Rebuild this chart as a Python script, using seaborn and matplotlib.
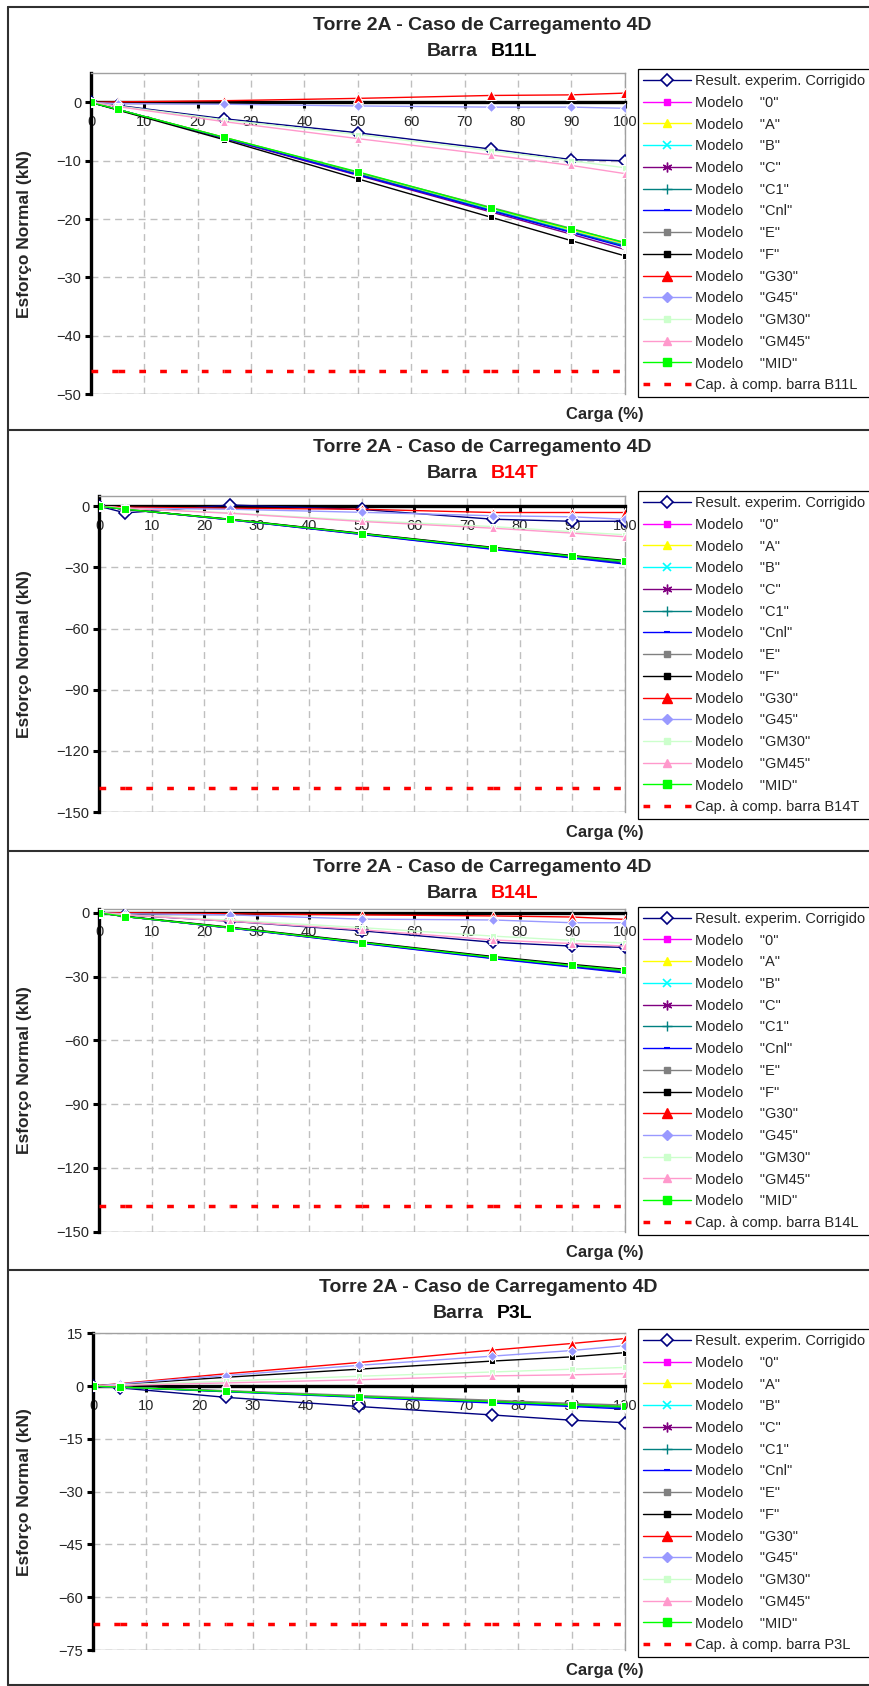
import matplotlib
matplotlib.use('Agg')
import matplotlib.pyplot as plt
import seaborn as sns
from matplotlib.lines import Line2D

sns.set_style('white')
plt.rcParams['font.family'] = ['Liberation Sans', 'DejaVu Sans']

# load steps (% of load)
carga = [0, 5, 25, 50, 75, 90, 100]

series_keys = ['exp', '0', 'A', 'B', 'C', 'C1', 'Cnl', 'E', 'F',
               'G30', 'G45', 'GM30', 'GM45', 'MID']
series_labels = ['Result. experim. Corrigido', 'Modelo    "0"', 'Modelo    "A"',
                 'Modelo    "B"', 'Modelo    "C"', 'Modelo    "C1"',
                 'Modelo    "Cnl"', 'Modelo    "E"', 'Modelo    "F"',
                 'Modelo    "G30"', 'Modelo    "G45"', 'Modelo    "GM30"',
                 'Modelo    "GM45"', 'Modelo    "MID"']

# normal force (kN) per bar
b11l = {
    'exp':  [0, -0.5, -2.8, -5.2, -8.0, -9.8, -10.0],
    '0':    [0, -1.2, -6.1, -12.2, -18.3, -22.0, -24.4],
    'A':    [0, -1.2, -6.0, -12.1, -18.2, -21.9, -24.3],
    'B':    [0, -1.2, -6.1, -12.3, -18.4, -22.1, -24.5],
    'C':    [0, -1.2, -6.2, -12.5, -18.8, -22.6, -25.2],
    'C1':   [0, -1.2, -6.1, -12.3, -18.5, -22.2, -24.6],
    'Cnl':  [0, -1.2, -6.1, -12.4, -18.6, -22.3, -24.8],
    'E':    [0, -1.2, -6.0, -12.0, -18.0, -21.6, -24.1],
    'F':    [0, -1.3, -6.4, -13.1, -19.7, -23.7, -26.3],
    'G30':  [0, 0.1, 0.3, 0.7, 1.2, 1.3, 1.6],
    'G45':  [0, -0.2, -0.3, -0.6, -0.8, -0.8, -1.0],
    'GM30': [0, -0.6, -3.0, -5.5, -8.3, -10.0, -11.2],
    'GM45': [0, -0.7, -3.3, -6.2, -9.0, -10.8, -12.2],
    'MID':  [0, -1.2, -6.0, -11.9, -18.1, -21.7, -24.0],
}
b14t = {
    'exp':  [0, -3.3, 0.6, -1.6, -6.4, -7.4, -7.4],
    '0':    [0, -1.5, -6.5, -13.5, -20.5, -24.5, -27.2],
    'A':    [0, -1.5, -6.5, -13.5, -20.5, -24.5, -27.2],
    'B':    [0, -1.5, -6.6, -13.6, -20.7, -24.8, -27.5],
    'C':    [0, -1.5, -6.7, -13.8, -21.0, -25.2, -28.0],
    'C1':   [0, -1.5, -6.6, -13.6, -20.8, -24.9, -27.6],
    'Cnl':  [0, -1.5, -6.7, -13.9, -21.2, -25.4, -28.4],
    'E':    [0, -1.5, -6.5, -13.4, -20.4, -24.4, -27.0],
    'F':    [0, -1.5, -6.4, -13.3, -20.2, -24.2, -26.6],
    'G30':  [0, -0.5, -1.0, -1.5, -3.1, -3.1, -3.1],
    'G45':  [0, -1.0, -1.5, -3.0, -4.7, -5.2, -6.4],
    'GM30': [0, -1.0, -3.3, -7.0, -10.0, -12.5, -14.0],
    'GM45': [0, -1.0, -3.5, -7.5, -10.8, -13.2, -15.0],
    'MID':  [0, -1.5, -6.5, -13.5, -20.5, -24.5, -27.0],
}
b14l = {
    'exp':  [0, -1.0, -4.0, -8.5, -13.9, -15.7, -16.3],
    '0':    [0, -1.8, -7.0, -14.0, -21.0, -24.8, -27.3],
    'A':    [0, -1.8, -7.0, -14.0, -21.0, -24.8, -27.3],
    'B':    [0, -1.8, -7.1, -14.1, -21.2, -25.0, -27.6],
    'C':    [0, -1.8, -7.2, -14.3, -21.4, -25.3, -28.0],
    'C1':   [0, -1.8, -7.1, -14.1, -21.2, -25.0, -27.6],
    'Cnl':  [0, -1.8, -7.2, -14.4, -21.6, -25.6, -28.3],
    'E':    [0, -1.8, -7.0, -13.9, -20.9, -24.7, -27.1],
    'F':    [0, -1.7, -6.8, -13.7, -20.6, -24.3, -26.6],
    'G30':  [0, 0.0, -0.5, -1.0, -1.5, -2.0, -3.1],
    'G45':  [0, -0.5, -1.0, -3.0, -3.4, -4.7, -4.7],
    'GM30': [0, -1.0, -3.5, -7.0, -11.0, -13.0, -14.3],
    'GM45': [0, -1.0, -4.0, -8.0, -12.8, -14.5, -15.7],
    'MID':  [0, -1.8, -7.0, -14.0, -21.0, -24.8, -27.0],
}
p3l = {
    'exp':  [0, -0.5, -3.2, -5.8, -8.2, -9.7, -10.4],
    '0':    [0, -0.3, -1.5, -3.0, -4.5, -5.4, -6.0],
    'A':    [0, -0.3, -1.5, -3.0, -4.5, -5.4, -6.0],
    'B':    [0, -0.3, -1.5, -3.0, -4.6, -5.5, -6.1],
    'C':    [0, -0.3, -1.4, -2.9, -4.3, -5.2, -5.8],
    'C1':   [0, -0.3, -1.5, -3.0, -4.5, -5.5, -6.1],
    'Cnl':  [0, -0.3, -1.6, -3.2, -4.8, -5.8, -6.5],
    'E':    [0, -0.3, -1.3, -2.7, -4.0, -4.9, -5.4],
    'F':    [0, 0.5, 2.5, 4.8, 7.1, 8.3, 9.5],
    'G30':  [0, 0.7, 3.5, 6.7, 10.2, 12.1, 13.5],
    'G45':  [0, 0.6, 3.0, 5.9, 8.5, 10.1, 11.5],
    'GM30': [0, 0.3, 1.4, 2.8, 4.0, 4.8, 5.3],
    'GM45': [0, 0.2, 0.9, 1.8, 2.9, 3.2, 3.5],
    'MID':  [0, -0.3, -1.5, -3.0, -4.4, -5.3, -5.8],
}

# compression capacity of each bar (kN)
cap_b11l = -46
cap_b14t = -138
cap_b14l = -138
cap_p3l = -67.5

# Excel-like series styles
styles = {
    'exp':  dict(color='#000080', marker='D', ms=6.5, mfc='white', mec='#000080', mew=1.2),
    '0':    dict(color='#FF00FF', marker='s', ms=5),
    'A':    dict(color='#FFFF00', marker='^', ms=6),
    'B':    dict(color='#00FFFF', marker='x', ms=6, mew=1.2),
    'C':    dict(color='#800080', marker=(6, 2, 0), ms=7, mew=1.0),
    'C1':   dict(color='#008080', marker='+', ms=7, mew=1.0),
    'Cnl':  dict(color='#0000FF', marker='_', ms=5, mew=1.5),
    'E':    dict(color='#808080', marker='s', ms=5),
    'F':    dict(color='#000000', marker='s', ms=5),
    'G30':  dict(color='#FF0000', marker='^', ms=7),
    'G45':  dict(color='#9999FF', marker='D', ms=5),
    'GM30': dict(color='#CCFFCC', marker='s', ms=5),
    'GM45': dict(color='#FF99CC', marker='^', ms=6),
    'MID':  dict(color='#00FF00', marker='s', ms=6),
}
cap_style = dict(color='#FF0000', lw=2.5, dashes=(1.93, 4.07))

W, H = 869, 1686
fig = plt.figure(figsize=(W / 100, H / 100), dpi=100)

panels = [
    # data, cap, bar, red name?, ylim, yticks, left px, top px, bottom px, title y px, title x px, legend top px
    (b11l, cap_b11l, 'B11L', False, (-50, 5), range(0, -51, -10), 91, 73.3, 394, 25, 482, 69),
    (b14t, cap_b14t, 'B14T', True, (-150, 5), range(0, -151, -30), 99, 496, 812, 448, 482, 491),
    (b14l, cap_b14l, 'B14L', True, (-150, 2), range(0, -151, -30), 99, 908.5, 1231.5, 868, 482, 906.7),
    (p3l, cap_p3l, 'P3L', False, (-75, 15), range(15, -76, -15), 93, 1333.3, 1650, 1287, 488, 1329),
]

right_px = 624.7

for data, cap, bar, red, ylim, yticks, left_px, top_px, bot_px, title_px, title_x, leg_px in panels:
    ax = fig.add_axes([left_px / W, 1 - bot_px / H, (right_px - left_px) / W, (bot_px - top_px) / H])
    ax.set_xlim(0, 100)
    ax.set_ylim(*ylim)
    ax.set_xticks(range(0, 101, 10))
    ax.set_yticks(list(yticks))
    ax.grid(True, color='#BFBFBF', linestyle=(0, (5, 3.5)), linewidth=1.0)

    handles = []
    for key, lab in zip(series_keys, series_labels):
        sns.lineplot(x=carga, y=data[key], ax=ax, lw=1.0, zorder=3, legend=False, **styles[key])
        handles.append(Line2D([], [], lw=1.0, label=lab, **styles[key]))

    # capacity line, drawn per interval so the dash pattern restarts like in Excel
    for i in range(len(carga) - 1):
        sns.lineplot(x=carga[i:i + 2], y=[cap, cap], ax=ax, zorder=3, legend=False, **cap_style)
    handles.append(Line2D([], [], label='Cap. à comp. barra ' + bar, **cap_style))
    ax.axhline(ylim[0], color='#A0A0A0', lw=1, zorder=1)

    for side in ['top', 'right']:
        ax.spines[side].set_color('#A0A0A0')
        ax.spines[side].set_linewidth(1)
    ax.spines['left'].set_color('black')
    ax.spines['left'].set_linewidth(2.4)
    ax.spines['bottom'].set_color('black')
    ax.spines['bottom'].set_linewidth(2.4)
    ax.spines['bottom'].set_position(('data', 0))
    ax.tick_params(axis='both', which='major', bottom=True, left=True, direction='out',
                   length=4, width=2.2, color='black', labelsize=10.5)
    ax.tick_params(axis='x', pad=5)
    ax.tick_params(axis='y', pad=3)
    ax.set_xlabel('')
    ax.set_ylabel('')

    leg = ax.legend(handles=handles, loc='upper left', bbox_to_anchor=(637.5 / W, 1 - leg_px / H),
                    bbox_transform=fig.transFigure, frameon=True, fancybox=False, shadow=False,
                    edgecolor='black', fontsize=10.5, handlelength=3.3, handletextpad=0.27,
                    labelspacing=0.53, borderpad=0.35, borderaxespad=0, framealpha=1)
    leg.get_frame().set_linewidth(0.9)

    # titles
    fig.text(title_x / W, 1 - title_px / H, 'Torre 2A - Caso de Carregamento 4D',
             ha='center', va='center', fontsize=14, fontweight='bold')
    fig.text((title_x - 4) / W, 1 - (title_px + 26) / H, 'Barra', ha='right', va='center',
             fontsize=14, fontweight='bold')
    fig.text((title_x + 9) / W, 1 - (title_px + 26) / H, bar, ha='left', va='center',
             fontsize=14, fontweight='bold', color='#FF0000' if red else 'black')
    fig.text(25 / W, 1 - (top_px + bot_px) / 2 / H, 'Esforço Normal (kN)', rotation=90,
             ha='center', va='center', fontsize=12.5, fontweight='bold')
    fig.text(604.5 / W, 1 - (bot_px + 21) / H, 'Carga (%)', ha='center', va='center',
             fontsize=12, fontweight='bold')

# panel frames
for y in [7, 429.5, 850.7, 1270, 1685]:
    fig.add_artist(Line2D([8 / W, 1], [1 - y / H, 1 - y / H], color='#303030', lw=1.5,
                          transform=fig.transFigure))
fig.add_artist(Line2D([8 / W, 8 / W], [1 - 1685 / H, 1 - 7 / H], color='#303030', lw=1.5,
                      transform=fig.transFigure))

fig.savefig('out.png', dpi=100)
